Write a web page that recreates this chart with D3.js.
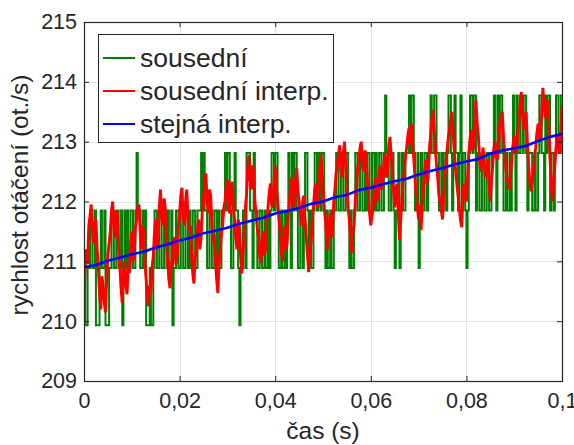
<!DOCTYPE html>
<html>
<head>
<meta charset="utf-8">
<script src="https://cdn.jsdelivr.net/npm/d3@7"></script>
<style>
  body { margin: 0; background: #fff; }
  text { font-family: "Liberation Sans", Arial, Helvetica, sans-serif; fill: #262626; }
</style>
</head>
<body>
<svg id="chart" width="574" height="445"></svg>
<script>
// Axis ticks and labels
const xTicks = [0, 0.02, 0.04, 0.06, 0.08, 0.1];
const xTickLabels = ["0", "0,02", "0,04", "0,06", "0,08", "0,1"];
const yTicks = [209, 210, 211, 212, 213, 214, 215];
const yTickLabels = ["209", "210", "211", "212", "213", "214", "215"];
const seriesNames = ["sousední", "sousední interp.", "stejná interp."];

// Sample periods of the logged signals (s)
const sampleStep = 0.00025;
const blueStep = 0.0025;

// Nearest-neighbour speed (quantised, ot./s)
const greenValues = [
  210.89, 209.93, 209.93, 210.89, 210.89, 211.85, 211.85, 210.89, 210.89, 211.85, 209.93, 209.93, 209.93, 210.89, 211.85, 210.89, 210.89, 211.85, 209.93, 209.93,
  209.93, 210.89, 210.89, 211.85, 211.85, 210.89, 210.89, 211.85, 211.85, 210.89, 210.89, 211.85, 209.93, 210.89, 211.85, 210.89,
  211.85, 210.89, 210.89, 211.85, 211.85, 210.89, 210.89, 211.85, 212.81, 211.85, 211.85, 210.89, 210.89, 211.85, 210.89, 211.85, 209.93, 209.93, 209.93, 210.89,
  209.93, 209.93, 210.89, 211.85, 211.85, 210.89, 210.89, 211.85, 211.85, 210.89, 210.89, 211.85, 211.85, 210.89, 211.85, 210.89, 210.89, 211.85, 209.93, 210.89,
  210.89, 211.85, 211.85, 210.89, 210.89, 211.85, 211.85, 210.89, 210.89, 211.85, 211.85, 210.89, 211.85, 210.89, 210.89, 211.85, 211.85, 210.89, 210.89, 211.85,
  211.85, 211.85, 212.81, 211.85,
  212.81, 211.85, 211.85, 210.89, 210.89, 211.85, 211.85, 210.89, 210.89, 211.85, 211.85, 210.89, 211.85, 210.89, 210.89, 211.85, 211.85, 211.85, 212.81, 211.85,
  212.81, 212.81, 211.85, 210.89, 210.89, 211.85, 212.81, 211.85, 211.85, 210.89, 209.93, 210.89, 210.89, 211.85, 211.85, 210.89, 212.81, 212.81, 212.81, 211.85,
  211.85, 210.89, 212.81, 211.85, 211.85, 210.89, 210.89, 211.85, 211.85, 210.89,
  210.89, 211.85, 210.89, 210.89, 211.85, 210.89, 211.85, 212.81, 212.81, 211.85, 212.81, 212.81, 211.85, 210.89, 210.89, 211.85, 210.89, 210.89, 211.85, 210.89,
  211.85, 212.81, 211.85, 210.89, 212.81, 211.85, 212.81, 212.81, 211.85, 210.89, 210.89, 211.85, 211.85, 210.89, 211.85, 212.81, 212.81, 211.85, 210.89, 211.85,
  210.89, 210.89, 211.85, 212.81, 212.81, 211.85, 212.81, 212.81, 211.85, 212.81, 212.81, 211.85, 210.89, 211.85, 210.89, 210.89, 211.85, 210.89,
  210.89, 211.85, 211.85, 212.81, 212.81, 211.85, 211.85, 212.81, 212.81, 211.85, 211.85, 212.81, 212.81, 211.85, 210.89, 211.85, 210.89, 210.89, 211.85, 212.81,
  212.81, 211.85, 211.85, 212.81, 212.81, 211.85, 211.85, 212.81, 211.85, 212.81, 212.81, 211.85, 211.85, 212.81, 212.81, 211.85, 212.81, 211.85, 211.85, 212.81,
  212.81, 211.85, 211.85, 212.81, 213.77, 212.81, 212.81, 211.85, 211.85, 212.81, 212.81, 211.85, 210.89, 211.85, 211.85, 212.81, 210.89, 211.85, 212.81, 211.85,
  211.85, 212.81, 212.81, 212.81, 213.77, 212.81, 213.77, 213.77, 212.81, 211.85, 211.85, 212.81, 210.89, 211.85, 212.81, 211.85, 211.85, 212.81, 212.81, 211.85,
  212.81, 212.81, 213.77, 212.81, 212.81, 213.77, 213.77, 212.81, 212.81, 211.85, 211.85, 212.81,
  211.85, 212.81, 212.81, 211.85, 212.81, 213.77, 213.77, 212.81, 211.85, 212.81, 213.77, 212.81, 212.81, 211.85, 212.81, 213.77, 211.85, 212.81, 212.81, 211.85,
  210.89, 211.85, 212.81, 213.77, 213.77, 212.81, 213.77, 213.77, 211.85, 212.81, 212.81, 211.85, 211.85, 212.81, 212.81, 211.85, 211.85, 212.81, 212.81, 211.85,
  211.85, 212.81, 212.81, 213.77, 212.81, 211.85, 213.77, 212.81, 213.77, 213.77, 212.81, 211.85, 211.85, 212.81, 211.85, 211.85, 212.81, 211.85, 212.81, 213.77,
  212.81, 211.85, 213.77, 212.81, 212.81, 213.77, 213.77, 212.81, 213.77, 213.77, 212.81, 211.85, 212.81, 212.81, 212.81, 211.85, 211.85, 212.81, 211.85, 211.85,
  212.81, 213.77, 213.77, 212.81, 212.81, 211.85, 213.77, 212.81, 213.77, 213.77, 211.85, 212.81, 212.81, 211.85, 212.81, 213.77, 213.77, 212.81, 212.81, 213.77,
  213.77
];

// Nearest-neighbour speed with interpolation (ot./s)
const redValues = [
  210.35, 210.9, 211.2, 210.95, 211.6, 211.75, 211.95, 211.5, 211.3, 211.65, 211.7, 211.2, 210.9, 210.45, 210.2, 210.75, 210.6, 210.3, 210.15, 210.7,
  211.1, 211.3, 211.5, 211.85, 212.0, 211.55, 211.4, 211.85, 211.8, 211.2, 210.9, 210.55, 210.3, 210.8, 211.0, 210.6, 210.45, 210.9, 210.8, 211.3,
  211.5, 211.0, 211.1, 211.55, 211.7, 211.9, 211.95, 211.5, 211.2, 211.6, 211.5, 211.0, 210.7, 210.4, 210.25, 210.6, 210.5, 210.9, 211.1, 211.5,
  211.7, 211.2, 211.3, 211.9, 212.2, 211.75, 211.6, 212.05, 211.9, 211.3, 211.0, 210.7, 210.55, 211.0, 210.9, 211.35, 211.4, 210.95, 211.1, 211.6,
  211.8, 212.1, 212.23, 211.7, 211.6, 212.0, 212.2, 211.7, 211.5, 211.6, 211.1, 210.8, 210.63, 211.05, 211.2, 211.55, 211.7, 211.2, 211.4, 211.85,
  212.0, 212.3, 212.47, 212.0, 211.8, 212.2, 212.1, 211.6, 211.3, 211.45, 211.0, 210.7, 210.47, 210.95, 211.2, 211.45, 211.6, 211.9, 212.0, 212.25,
  212.36, 211.95, 211.8, 212.2, 212.33, 211.9, 211.7, 211.4, 211.2, 211.7, 211.6, 211.1, 210.8, 211.15, 211.4, 211.9, 212.1, 212.55, 212.78, 212.35,
  212.2, 212.6, 212.5, 212.0, 211.8, 211.55, 211.4, 211.1, 210.97, 211.4, 211.5, 211.1, 211.2, 211.7, 211.9, 212.15, 212.3, 211.95, 211.9, 212.35,
  212.6, 212.25, 212.0, 211.75, 211.5, 211.2, 211.0, 211.35, 211.6, 211.2, 211.3, 211.8, 212.0, 212.3, 212.4, 212.0, 211.9, 212.3, 212.56, 212.2,
  212.0, 211.8, 211.6, 212.0, 212.1, 211.7, 211.4, 211.1, 210.82, 211.2, 211.3, 211.7, 211.9, 212.2, 212.3, 211.95, 211.9, 212.4, 212.8, 212.5,
  212.2, 211.9, 211.7, 211.4, 211.2, 211.6, 211.8, 211.4, 211.5, 212.0, 212.2, 212.5, 212.6, 212.8, 212.94, 212.5, 212.4, 212.8, 213.0, 212.6,
  212.2, 211.9, 211.7, 211.4, 211.14, 211.5, 211.6, 212.0, 212.3, 212.55, 212.7, 212.9, 213.0, 212.6, 212.5, 212.85, 212.8, 212.4, 212.1, 211.8,
  211.6, 211.75, 211.9, 212.2, 212.4, 212.0, 212.1, 212.45, 212.6, 212.2, 212.3, 212.65, 212.8, 212.4, 212.5, 212.9, 213.08, 212.8, 212.6, 212.2,
  211.9, 212.2, 212.3, 211.8, 211.36, 211.7, 212.0, 212.35, 212.5, 212.75, 212.9, 213.1, 213.23, 212.95, 213.3, 213.0, 212.7, 212.4, 212.1, 211.9,
  211.7, 211.95, 211.52, 211.9, 212.2, 212.5, 212.7, 212.3, 212.4, 212.85, 213.1, 213.35, 213.53, 213.2, 212.9, 212.6, 212.4, 212.1, 212.0, 211.85,
  211.7, 212.1, 212.4, 212.7, 212.9, 213.1, 213.2, 213.4, 213.5, 213.1, 212.8, 212.5, 212.3, 212.1, 211.9, 211.7, 211.57, 212.0, 212.3, 212.05,
  212.0, 212.4, 212.8, 213.05, 213.2, 212.85, 212.9, 213.35, 213.7, 213.3, 213.1, 212.7, 212.5, 212.75, 212.9, 212.6, 212.4, 212.55, 212.7, 212.3,
  212.0, 212.35, 212.6, 212.9, 213.0, 212.75, 212.7, 213.0, 213.3, 213.4, 213.5, 213.1, 212.8, 212.55, 212.4, 212.3, 212.2, 212.45, 212.7, 212.95,
  213.1, 212.9, 212.8, 213.15, 213.4, 213.65, 213.83, 213.45, 213.2, 213.4, 213.5, 213.0, 212.6, 212.35, 212.17, 212.3, 212.5, 212.75, 212.9, 213.15,
  213.3, 213.1, 213.0, 213.5, 213.9, 213.6, 213.4, 213.6, 213.7, 213.2, 212.7, 212.3, 212.0, 212.3, 212.6, 212.9, 213.1, 212.95, 212.8, 213.2,
  213.6
];

// Equal-interval interpolation speed (ot./s)
const blueValues = [
  210.90, 210.94, 211.01, 211.06, 211.12, 211.16, 211.23, 211.28, 211.35, 211.40,
  211.47, 211.51, 211.56, 211.63, 211.68, 211.73, 211.80, 211.84, 211.89, 211.96,
  212.00, 212.07, 212.11, 212.19, 212.23, 212.29, 212.34, 212.38, 212.45, 212.51,
  212.56, 212.62, 212.67, 212.71, 212.80, 212.85, 212.89, 212.93, 213.01, 213.08,
  213.13
];

const seriesColors = ["#008000", "#ff0000", "#0000ff"];

const svg = d3.select("#chart");
const plot = { left: 84, right: 562, top: 22, bottom: 381 };

const x = d3.scaleLinear().domain([0, 0.1]).range([plot.left, plot.right]);
const y = d3.scaleLinear().domain([209, 215]).range([plot.bottom, plot.top]);

// Grid
const grid = svg.append("g").attr("stroke", "#e3e3e3").attr("stroke-width", 1);
grid.selectAll("line.gx").data(xTicks).join("line")
  .attr("x1", d => Math.round(x(d)) + 0.5).attr("x2", d => Math.round(x(d)) + 0.5)
  .attr("y1", plot.top).attr("y2", plot.bottom);
grid.selectAll("line.gy").data(yTicks).join("line")
  .attr("y1", d => Math.round(y(d)) + 0.5).attr("y2", d => Math.round(y(d)) + 0.5)
  .attr("x1", plot.left).attr("x2", plot.right);

// Data lines
svg.append("clipPath").attr("id", "clip").append("rect")
  .attr("x", plot.left).attr("y", plot.top)
  .attr("width", plot.right - plot.left).attr("height", plot.bottom - plot.top);
const lines = svg.append("g").attr("clip-path", "url(#clip)").attr("fill", "none");

const stepLine = d3.line().x((d, i) => x(i * sampleStep)).y(d => y(d)).curve(d3.curveStepAfter);
const sampleLine = d3.line().x((d, i) => x(i * sampleStep)).y(d => y(d));
const blueLine = d3.line().x((d, i) => x(i * blueStep)).y(d => y(d));

lines.append("path").attr("d", stepLine(greenValues))
  .attr("stroke", seriesColors[0]).attr("stroke-width", 2);
lines.append("path").attr("d", sampleLine(redValues))
  .attr("stroke", seriesColors[1]).attr("stroke-width", 2.9)
  .attr("stroke-linejoin", "miter").attr("stroke-miterlimit", 3);
lines.append("path").attr("d", blueLine(blueValues))
  .attr("stroke", seriesColors[2]).attr("stroke-width", 2.6).attr("stroke-linejoin", "round");

// Axes with inward ticks on all four sides
const fmtX = d => xTickLabels[xTicks.indexOf(d)];
const fmtY = d => yTickLabels[yTicks.indexOf(d)];

const axB = svg.append("g").attr("transform", `translate(0,${plot.bottom})`)
  .call(d3.axisBottom(x).tickValues(xTicks).tickFormat(fmtX).tickSizeInner(-5).tickSizeOuter(0).tickPadding(12));
const axT = svg.append("g").attr("transform", `translate(0,${plot.top})`)
  .call(d3.axisTop(x).tickValues(xTicks).tickFormat("").tickSizeInner(-5).tickSizeOuter(0));
const axL = svg.append("g").attr("transform", `translate(${plot.left},0)`)
  .call(d3.axisLeft(y).tickValues(yTicks).tickFormat(fmtY).tickSizeInner(-5).tickSizeOuter(0).tickPadding(7));
const axR = svg.append("g").attr("transform", `translate(${plot.right},0)`)
  .call(d3.axisRight(y).tickValues(yTicks).tickFormat("").tickSizeInner(-5).tickSizeOuter(0));

[axB, axT, axL, axR].forEach(a => {
  a.select(".domain").remove();
  a.selectAll(".tick line").attr("stroke", "#262626").attr("stroke-width", 1);
  a.selectAll("text").attr("font-size", 21.5).attr("fill", "#262626")
    .style("font-family", "'Liberation Sans', Arial, Helvetica, sans-serif");
});

svg.append("rect")
  .attr("x", plot.left + 0.5).attr("y", plot.top + 0.5)
  .attr("width", plot.right - plot.left).attr("height", plot.bottom - plot.top)
  .attr("fill", "none").attr("stroke", "#262626").attr("stroke-width", 1.2);

// Axis titles
svg.append("text").attr("x", (plot.left + plot.right) / 2).attr("y", 439)
  .attr("text-anchor", "middle").attr("font-size", 24.5).text("čas (s)");
svg.append("text")
  .attr("transform", `translate(28,195) rotate(-90)`)
  .attr("text-anchor", "middle").attr("font-size", 24.5).text("rychlost otáčení (ot./s)");

// Legend
const legend = svg.append("g");
legend.append("rect").attr("x", 98.5).attr("y", 34.5).attr("width", 235).attr("height", 108)
  .attr("fill", "#fff").attr("stroke", "#262626").attr("stroke-width", 1);
const rowY = [58, 91, 124];
seriesNames.forEach((name, i) => {
  legend.append("line").attr("x1", 103).attr("x2", 135).attr("y1", rowY[i]).attr("y2", rowY[i])
    .attr("stroke", seriesColors[i]).attr("stroke-width", 2);
  legend.append("text").attr("x", 140).attr("y", rowY[i]).attr("dy", "0.35em")
    .attr("font-size", 26.5).text(name);
});
</script>
</body>
</html>
